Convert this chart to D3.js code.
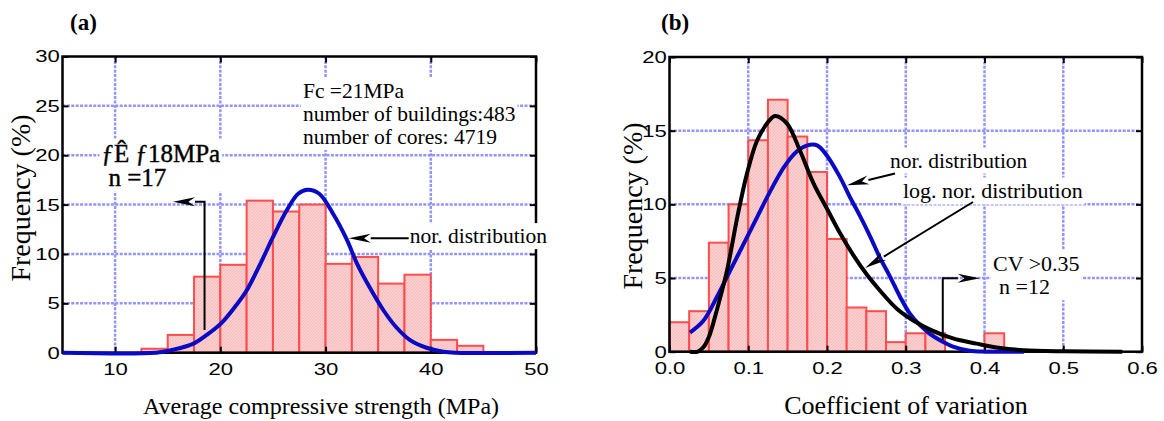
<!DOCTYPE html>
<html>
<head>
<meta charset="utf-8">
<script src="https://cdn.jsdelivr.net/npm/d3@7"></script>
<style>
  body { margin: 0; background: #fff; }
  svg { display: block; }
</style>
</head>
<body>
<div id="chart"></div>
<script>
/* ===== Data ===== */

// (a) average compressive strength, 2.5 MPa bins
const strengthEdges = [12.5, 15, 17.5, 20, 22.5, 25, 27.5, 30, 32.5, 35, 37.5, 40, 42.5, 45];
const strengthFreq  = [0.4, 1.8, 7.7, 8.9, 15.4, 14.3, 15.0, 9.0, 9.7, 7.0, 7.9, 1.3, 0.7];
const strengthNormal = [[5, 0], [13.9, 0], [15.5, 0.3], [17.4, 0.9], [18.7, 1.8], [20.1, 3.0], [21.5, 4.8],
                        [22.5, 6.3], [23.8, 9.0], [25.0, 11.7], [26.3, 14.4], [27.4, 16.1], [28.3, 16.5],
                        [29.4, 16.1], [30.7, 14.1], [32.0, 11.5], [33.0, 9.0], [34.2, 6.6], [35.5, 4.3],
                        [36.7, 2.6], [38.0, 1.3], [39.6, 0.5], [41.2, 0.1], [42.4, 0], [50, 0]];
const strengthXTicks = [10, 20, 30, 40, 50];
const strengthYTicks = [0, 5, 10, 15, 20, 25, 30];

// (b) coefficient of variation, 0.025 bins
const cvEdges = [0, 0.025, 0.05, 0.075, 0.1, 0.125, 0.15, 0.175, 0.2, 0.225, 0.25, 0.275, 0.3, 0.325, 0.35, 0.375, 0.4, 0.425];
const cvFreq  = [2.0, 2.75, 7.4, 10.0, 14.35, 17.1, 14.6, 12.2, 7.65, 3.0, 2.75, 0.65, 1.25, 1.25, 0, 0, 1.25];
const cvNormal = [[0.026, 1.3], [0.043, 2.1], [0.060, 3.7], [0.077, 5.5], [0.094, 7.3], [0.111, 9.1], [0.128, 10.9],
                  [0.145, 12.5], [0.162, 13.6], [0.175, 14.0], [0.1875, 14.0], [0.200, 13.3], [0.216, 11.9],
                  [0.229, 10.5], [0.242, 9.2], [0.255, 7.8], [0.267, 6.4], [0.280, 5.1], [0.293, 3.7],
                  [0.305, 2.6], [0.318, 1.8], [0.331, 1.2], [0.343, 0.8], [0.360, 0.35], [0.381, 0.07],
                  [0.40, 0], [0.45, 0]];
const cvLogNormal = [[0.026, 0], [0.036, 0], [0.043, 0.3], [0.050, 1.0], [0.060, 2.8], [0.073, 5.5], [0.086, 9.1],
                     [0.098, 12.0], [0.111, 14.3], [0.124, 15.5], [0.134, 16.0], [0.149, 15.5], [0.166, 13.6],
                     [0.183, 11.4], [0.200, 9.7], [0.217, 8.0], [0.234, 6.5], [0.251, 5.2], [0.268, 4.1],
                     [0.289, 2.9], [0.310, 2.1], [0.331, 1.5], [0.360, 0.9], [0.390, 0.55], [0.420, 0.25],
                     [0.450, 0.1], [0.500, 0.03], [0.575, 0]];
const cvXTicks = [0, 0.1, 0.2, 0.3, 0.4, 0.5, 0.6];
const cvYTicks = [0, 5, 10, 15, 20];

/* ===== Setup ===== */
const serif = '"Liberation Serif", "Times New Roman", serif';
const sans = '"Liberation Sans", Arial, sans-serif';
const gridColor = "#9494fa";
const barStroke = "#ff4d4d";
const curveBlue = "#0a0ac4";

const svg = d3.select("#chart").append("svg")
              .attr("width", 1164)
              .attr("height", 421);

// fine hatch used to fill the bars
const pat = svg.append("defs").append("pattern")
               .attr("id", "hatch")
               .attr("patternUnits", "userSpaceOnUse")
               .attr("width", 3)
               .attr("height", 3);
pat.append("rect").attr("width", 3).attr("height", 3).attr("fill", "#fbcfcf");
pat.append("path").attr("d", "M0,3L3,0").attr("stroke", "#f4b2b2").attr("stroke-width", 0.7);

function makePanel(box, xDomain, yDomain) {
    const x = d3.scaleLinear().domain(xDomain).range([box.left, box.right]);
    const y = d3.scaleLinear().domain(yDomain).range([box.bottom, box.top]);
    return {box, x, y, g: svg.append("g")};
}

function drawGrid(p, xs, ys) {
    const g = p.g.append("g")
                 .attr("stroke", gridColor)
                 .attr("stroke-width", 2.5)
                 .attr("stroke-dasharray", "3,1.4");
    g.selectAll(".gx").data(xs).join("line")
     .attr("x1", d => p.x(d)).attr("x2", d => p.x(d))
     .attr("y1", p.box.top).attr("y2", p.box.bottom);
    g.selectAll(".gy").data(ys).join("line")
     .attr("y1", d => p.y(d)).attr("y2", d => p.y(d))
     .attr("x1", p.box.left).attr("x2", p.box.right);
}

function drawBars(p, edges, freq) {
    const bins = freq.map((f, i) => ({x0: edges[i], x1: edges[i + 1], f}))
                     .filter(d => d.f > 0);
    p.g.append("g").selectAll("rect").data(bins).join("rect")
       .attr("x", d => p.x(d.x0))
       .attr("width", d => p.x(d.x1) - p.x(d.x0))
       .attr("y", d => p.y(d.f))
       .attr("height", d => p.y(0) - p.y(d.f))
       .attr("fill", "url(#hatch)")
       .attr("stroke", barStroke)
       .attr("stroke-width", 2);
}

function drawAxes(p, xTicks, yTicks, xFmt) {
    const b = p.box;
    const stretch = g => g.selectAll(".tick text")
                          .attr("font-family", sans)
                          .attr("font-size", 17)
                          .attr("fill", "#000")
                          .attr("transform", "scale(1.3,1)");
    const clean = g => { g.select(".domain").remove(); g.selectAll(".tick line").attr("stroke", "#000").attr("stroke-width", 2); };

    p.g.append("g").attr("transform", `translate(0,${b.bottom})`)
       .call(d3.axisBottom(p.x).tickValues(xTicks).tickFormat(xFmt).tickSizeInner(-6).tickPadding(10))
       .call(clean).call(stretch);
    p.g.append("g").attr("transform", `translate(${b.left},0)`)
       .call(d3.axisLeft(p.y).tickValues(yTicks).tickSizeInner(-6).tickPadding(2))
       .call(clean).call(stretch);
    p.g.append("g").attr("transform", `translate(0,${b.top})`)
       .call(d3.axisTop(p.x).tickValues(xTicks).tickFormat("").tickSizeInner(-6))
       .call(clean);
    p.g.append("g").attr("transform", `translate(${b.right},0)`)
       .call(d3.axisRight(p.y).tickValues(yTicks).tickFormat("").tickSizeInner(-6))
       .call(clean);

    p.g.append("rect")
       .attr("x", b.left).attr("y", b.top)
       .attr("width", b.right - b.left).attr("height", b.bottom - b.top)
       .attr("fill", "none").attr("stroke", "#000").attr("stroke-width", 2.5);
}

function drawCurve(p, pts, color, width) {
    const line = d3.line()
                   .x(d => p.x(d[0]))
                   .y(d => p.y(d[1]))
                   .curve(d3.curveCatmullRom.alpha(0.5));
    p.g.append("path")
       .datum(pts)
       .attr("d", line)
       .attr("fill", "none")
       .attr("stroke", color)
       .attr("stroke-width", width)
       .attr("stroke-linejoin", "round");
}

// text block with a white box behind it (hides the grid as in the figure)
function drawNote(p, lines, xv, yv, size, lineH, indent) {
    const g = p.g.append("g");
    const t = g.append("text")
               .attr("x", p.x(xv))
               .attr("y", p.y(yv))
               .attr("font-family", serif)
               .attr("font-size", size)
               .attr("fill", "#000");
    lines.forEach((s, i) => {
        t.append("tspan").attr("x", p.x(xv) + (indent && indent[i] || 0))
         .attr("dy", i === 0 ? 0 : lineH).text(s);
    });
    const bb = t.node().getBBox();
    g.insert("rect", "text")
     .attr("x", bb.x - 2).attr("y", bb.y - 1)
     .attr("width", bb.width + 4).attr("height", bb.height + 2)
     .attr("fill", "#fff");
    return t;
}

// polyline ending in a filled arrow head at its last point
function drawArrow(p, pts) {
    const px = pts.map(d => [p.x(d[0]), p.y(d[1])]);
    const a = px[px.length - 2], tip = px[px.length - 1];
    const ang = Math.atan2(tip[1] - a[1], tip[0] - a[0]);
    const len = 22, half = 4.5;
    const base = [tip[0] - len * Math.cos(ang), tip[1] - len * Math.sin(ang)];
    const shaft = px.slice(0, -1).concat([base]);
    p.g.append("path")
       .attr("d", d3.line()(shaft))
       .attr("fill", "none").attr("stroke", "#000").attr("stroke-width", 2);
    const nx = -Math.sin(ang) * half, ny = Math.cos(ang) * half;
    const notch = [base[0] + 0.3 * len * Math.cos(ang), base[1] + 0.3 * len * Math.sin(ang)];
    p.g.append("path")
       .attr("d", d3.line()([tip, [base[0] + nx, base[1] + ny], notch, [base[0] - nx, base[1] - ny]]) + "Z")
       .attr("fill", "#000");
}

function panelLabels(tag, tagX, xLabel, xLabelX, xLabelSize, yLabelX, yLabelY) {
    svg.append("text")
       .attr("x", tagX).attr("y", 30)
       .attr("font-family", serif).attr("font-size", 23).attr("font-weight", "bold")
       .text(tag);
    svg.append("text")
       .attr("x", xLabelX).attr("y", 414)
       .attr("text-anchor", "middle")
       .attr("font-family", serif).attr("font-size", xLabelSize)
       .text(xLabel);
    svg.append("text")
       .attr("transform", `translate(${yLabelX},${yLabelY}) rotate(-90)`)
       .attr("text-anchor", "middle")
       .attr("font-family", serif).attr("font-size", 28)
       .text("Frequency (%)");
}

/* ===== Panel (a) ===== */
const pa = makePanel({left: 62.5, right: 536, top: 56.5, bottom: 352.7}, [5, 50], [0, 30]);
drawGrid(pa, [10, 20, 30, 40], [5, 10, 15, 20, 25]);
drawBars(pa, strengthEdges, strengthFreq);
drawAxes(pa, strengthXTicks, strengthYTicks, d3.format("d"));
drawCurve(pa, strengthNormal, curveBlue, 4);

drawNote(pa, ["Fc =21MPa", "number of buildings:483", "number of cores: 4719"], 27.85, 25.8, 21.5, 23);
drawNote(pa, ["ƒÊ ƒ18MPa", "n =17"], 8.7, 19.35, 25, 24, [0, 7]).attr("stroke", "#000").attr("stroke-width", 0.4);
drawNote(pa, ["nor. distribution"], 38.0, 11.1, 21.5, 0);
drawArrow(pa, [[18.5, 2.3], [18.5, 15.3], [15.5, 15.3]]);
drawArrow(pa, [[37.9, 11.6], [32.2, 11.6]]);
panelLabels("(a)", 70, "Average compressive strength (MPa)", 321, 24, 30, 198);

/* ===== Panel (b) ===== */
const pb = makePanel({left: 669.5, right: 1142, top: 57, bottom: 351.7}, [0, 0.6], [0, 20]);
drawGrid(pb, [0.1, 0.2, 0.3, 0.4, 0.5], [5, 10, 15]);
drawBars(pb, cvEdges, cvFreq);
drawAxes(pb, cvXTicks, cvYTicks, d3.format(".1f"));
drawCurve(pb, cvNormal, curveBlue, 4);
drawCurve(pb, cvLogNormal, "#000", 4);

drawNote(pb, ["nor. distribution"], 0.28, 12.5, 21.5, 0);
drawNote(pb, ["log. nor. distribution"], 0.2965, 10.4, 22, 0);
drawNote(pb, ["CV >0.35", "n =12"], 0.4108, 5.5, 22, 23.6, [0, 6]);
drawArrow(pb, [[0.2864, 12.1], [0.2254, 11.3]]);
drawArrow(pb, [[0.3854, 10.16], [0.2483, 5.68]]);
drawArrow(pb, [[0.347, 0.8], [0.347, 4.98], [0.394, 4.98]]);
panelLabels("(b)", 661, "Coefficient of variation", 906, 26, 642, 206);
</script>
</body>
</html>
